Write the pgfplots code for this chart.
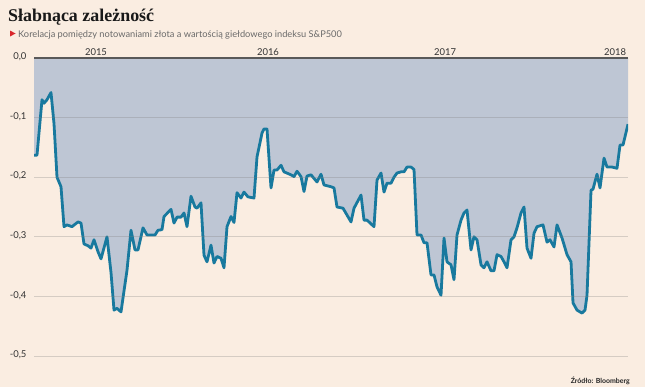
\documentclass[border=0pt]{standalone}
\usepackage{pgfplots}
\pgfplotsset{compat=1.18}
\usepackage{fontspec}
\setmainfont{Lato}
\newfontfamily\titlefont{Liberation Serif}
\definecolor{bgpeach}{HTML}{FAEDE1}
\definecolor{areafill}{HTML}{BEC6D4}
\definecolor{linecol}{HTML}{18799E}
\definecolor{ticktext}{HTML}{333333}
\definecolor{subtext}{HTML}{6A6A6A}
\definecolor{redtri}{HTML}{D9262B}
\pgfplotstableread{
x y
34 -0.163
37 -0.163
42 -0.070
44 -0.076
47 -0.070
51 -0.058
54 -0.110
57 -0.200
61 -0.216
64 -0.283
67 -0.280
72 -0.283
78 -0.275
81 -0.277
84 -0.312
88 -0.315
91 -0.319
94 -0.305
98 -0.325
101 -0.337
107 -0.300
111 -0.360
114 -0.423
117 -0.420
121 -0.426
127 -0.356
131 -0.289
135 -0.322
138 -0.322
143 -0.285
147 -0.297
155 -0.297
158 -0.289
162 -0.288
164 -0.266
171 -0.254
174 -0.277
177 -0.267
181 -0.267
184 -0.260
187 -0.283
191 -0.232
195 -0.250
197 -0.252
201 -0.243
204 -0.331
207 -0.342
211 -0.314
214 -0.344
217 -0.333
221 -0.336
224 -0.352
227 -0.283
231 -0.266
234 -0.276
237 -0.226
241 -0.235
244 -0.225
248 -0.233
254 -0.235
257 -0.166
262 -0.126
264 -0.119
267 -0.119
271 -0.218
274 -0.188
277 -0.188
281 -0.180
284 -0.191
291 -0.196
294 -0.199
297 -0.190
301 -0.199
304 -0.224
307 -0.198
311 -0.196
317 -0.208
321 -0.195
324 -0.213
331 -0.216
334 -0.218
337 -0.250
343 -0.252
351 -0.275
354 -0.252
361 -0.230
364 -0.272
367 -0.272
374 -0.283
377 -0.205
381 -0.193
384 -0.225
387 -0.210
391 -0.210
394 -0.200
397 -0.193
401 -0.191
404 -0.191
407 -0.183
411 -0.183
414 -0.187
417 -0.297
421 -0.297
424 -0.310
427 -0.310
431 -0.364
434 -0.364
437 -0.384
441 -0.398
444 -0.302
447 -0.342
451 -0.347
454 -0.372
457 -0.297
461 -0.272
464 -0.260
467 -0.255
471 -0.322
474 -0.300
477 -0.305
481 -0.347
484 -0.352
487 -0.342
491 -0.357
494 -0.357
497 -0.330
501 -0.333
504 -0.342
507 -0.352
511 -0.305
514 -0.300
517 -0.285
521 -0.260
524 -0.250
527 -0.319
531 -0.336
534 -0.294
537 -0.283
543 -0.280
547 -0.309
550 -0.305
554 -0.317
557 -0.280
562 -0.302
567 -0.330
571 -0.342
573 -0.411
577 -0.423
582 -0.428
585 -0.423
587 -0.398
591 -0.222
593 -0.220
597 -0.195
600 -0.218
604 -0.168
607 -0.183
612 -0.183
617 -0.185
620 -0.146
623 -0.146
628 -0.111
}\corr
\begin{document}
\begin{tikzpicture}[x=1bp,y=1bp]
\fill[bgpeach] (0,0) rectangle (645,387);
\node[anchor=base west, inner sep=0, font=\titlefont\bfseries\fontsize{18}{20}\selectfont, text=black!90] at (8,366) {Słabnąca zależność};
\fill[redtri] (10,350.5) -- (15.5,353.5) -- (10,356.5) -- cycle;
\node[anchor=base west, inner sep=0, font=\fontsize{9.3}{11}\selectfont, text=subtext] at (18,350) {Korelacja pomiędzy notowaniami złota a wartością giełdowego indeksu S\&P500};
\node[anchor=base east, inner sep=0, font=\bfseries\fontsize{7}{8}\selectfont, text=black!85] at (630,4) {Źródło: Bloomberg};
\begin{axis}[
  axis on top,
  at={(34bp,31bp)}, anchor=south west,
  scale only axis, width=594bp, height=298bp,
  xmin=34, xmax=628, ymin=-0.5, ymax=0,
  axis line style={draw=none},
  major tick length=0,
  xtick={96,268,445,615},
  xticklabels={2015,2016,2017,2018},
  xticklabel pos=upper,
  xticklabel style={font=\fontsize{9.5}{10}\selectfont, text=ticktext, yshift=-1bp},
  ytick={-0.5,-0.4,-0.3,-0.2,-0.1},
  extra y ticks={0},
  extra y tick style={grid style={draw=black!65, line width=1.6bp, opacity=1}},
  yticklabel style={font=\fontsize{9.5}{10}\selectfont, text=ticktext, anchor=east, xshift=-4bp, yshift=1bp},
  ymajorgrids,
  grid style={draw=gray, line width=0.8bp, opacity=0.3},
  /pgf/number format/.cd, use comma, fixed, fixed zerofill, precision=1, assume math mode=true,
]
\addplot[draw=none, fill=areafill] table[x=x,y=y] {\corr} -- (axis cs:628,0) -- (axis cs:34,0) -- cycle;
\addplot[linecol, line width=2.8bp, line join=round, no marks] table[x=x,y=y] {\corr};
\end{axis}
\end{tikzpicture}
\end{document}
